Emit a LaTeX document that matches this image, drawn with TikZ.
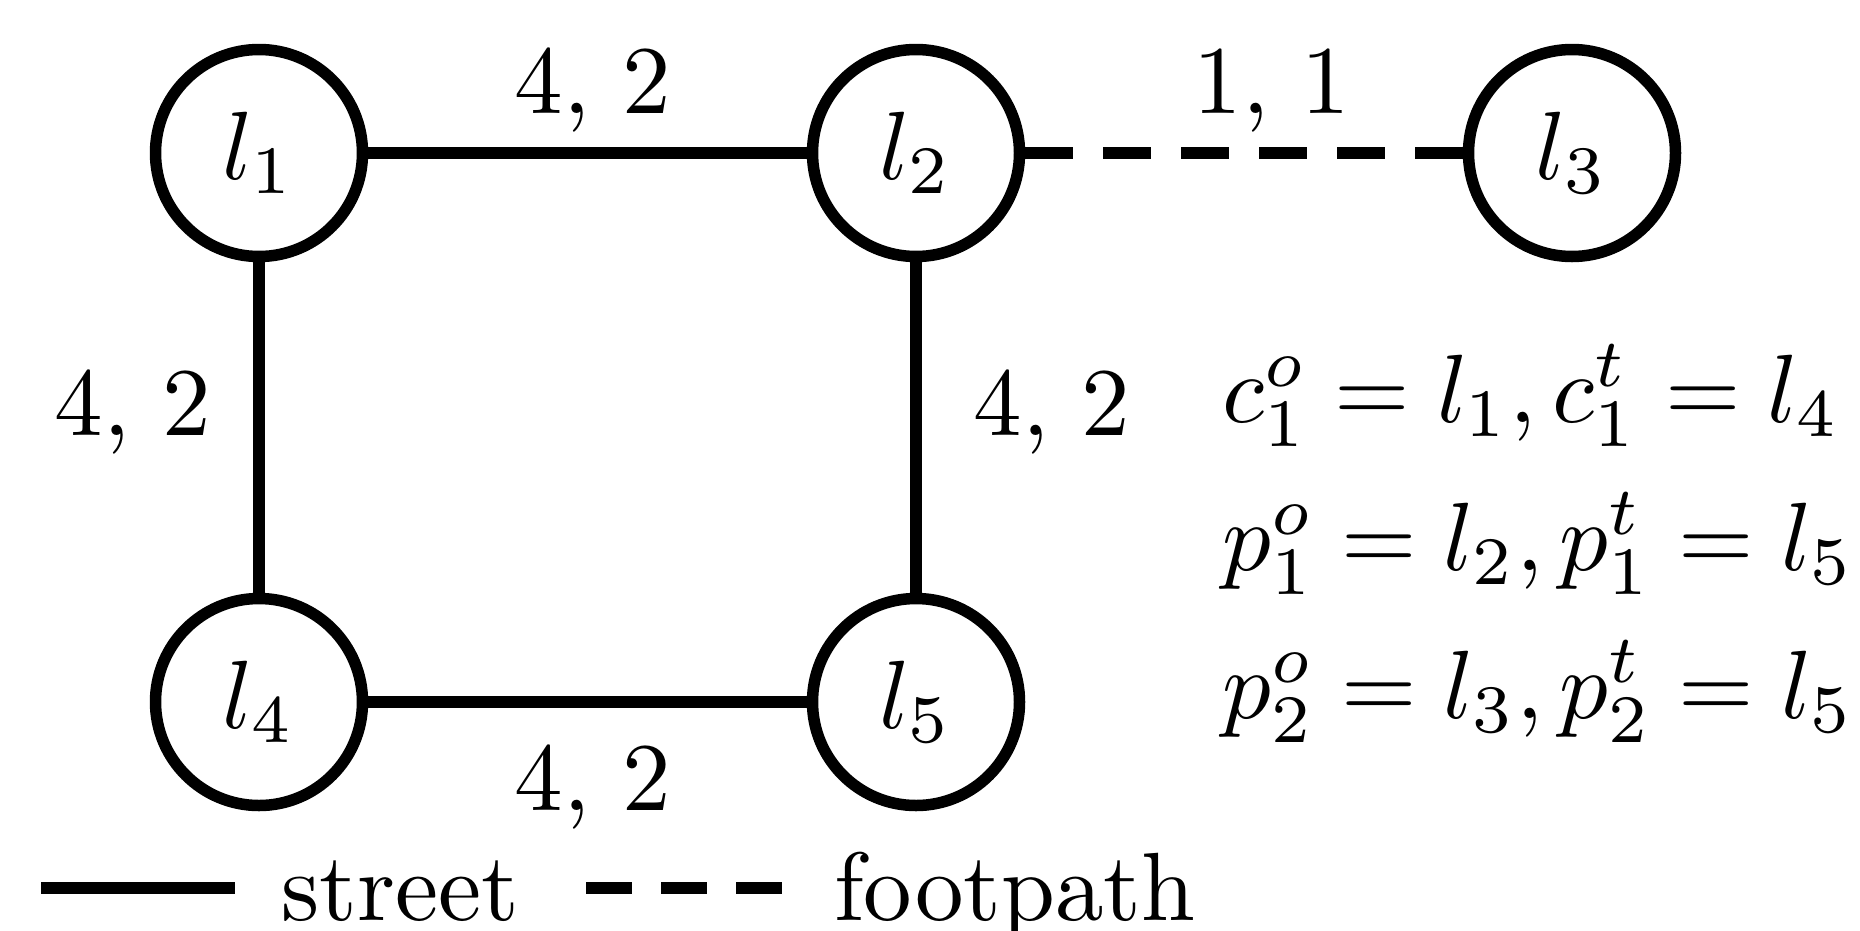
\documentclass[tikz,border=0pt]{standalone}
\usepackage{amsmath}
\usepackage{graphicx}
\usepackage{tikz}

% text is set at 10pt and blown up, as in the original figure
\newcommand{\bigtxt}[1]{\scalebox{9.7}{#1}}

\tikzset{
    loc/.style={circle, draw, line width=11.5pt, minimum size=207pt, inner sep=0pt},
    street/.style={line width=11.5pt},
    footpath/.style={line width=11.5pt, dash pattern=on 48pt off 30pt},
    cost/.style={anchor=base, inner sep=0pt},
    txt/.style={anchor=base west, inner sep=0pt}
}

\begin{document}
\begin{tikzpicture}[x=1pt, y=-1pt]
    \useasboundingbox (0,0) rectangle (1860,930);

    % Locations
    \node[loc] (l1) at (259,153) {\bigtxt{$l_1$}};
    \node[loc] (l2) at (916,153) {\bigtxt{$l_2$}};
    \node[loc] (l3) at (1572,153) {\bigtxt{$l_3$}};
    \node[loc] (l4) at (259,702) {\bigtxt{$l_4$}};
    \node[loc] (l5) at (916,702) {\bigtxt{$l_5$}};

    % Streets and footpath
    \draw[street] (l1) -- (l2);
    \draw[street] (l1) -- (l4);
    \draw[street] (l2) -- (l5);
    \draw[street] (l4) -- (l5);
    \draw[footpath] (l2) -- (l3);

    % Edge costs
    \node[cost] (c12) at (593,113) {\bigtxt{4, 2}};
    \node[cost] (c23) at (1272,113) {\bigtxt{1, 1}};
    \node[cost] (c14) at (133,435) {\bigtxt{4, 2}};
    \node[cost] (c25) at (1052,435) {\bigtxt{4, 2}};
    \node[cost] (c45) at (593,810) {\bigtxt{4, 2}};

    % Origins and targets
    \node[txt] (eqc) at (1222,422) {\bigtxt{$c_1^o = l_1, c_1^t = l_4$}};
    \node[txt] (eqp1) at (1222,570) {\bigtxt{$p_1^o = l_2, p_1^t = l_5$}};
    \node[txt] (eqp2) at (1222,718) {\bigtxt{$p_2^o = l_3, p_2^t = l_5$}};

    % Legend
    \coordinate (sa) at (41,888);
    \coordinate (sb) at (235,888);
    \draw[street] (sa) -- (sb);
    \node[txt] (st) at (281,920) {\bigtxt{street}};
    \coordinate (fa) at (586,888);
    \coordinate (fb) at (782,888);
    \draw[footpath, dash pattern=on 46pt off 29pt] (fa) -- (fb);
    \node[txt] (fp) at (834,920) {\bigtxt{footpath}};
\end{tikzpicture}
\end{document}
